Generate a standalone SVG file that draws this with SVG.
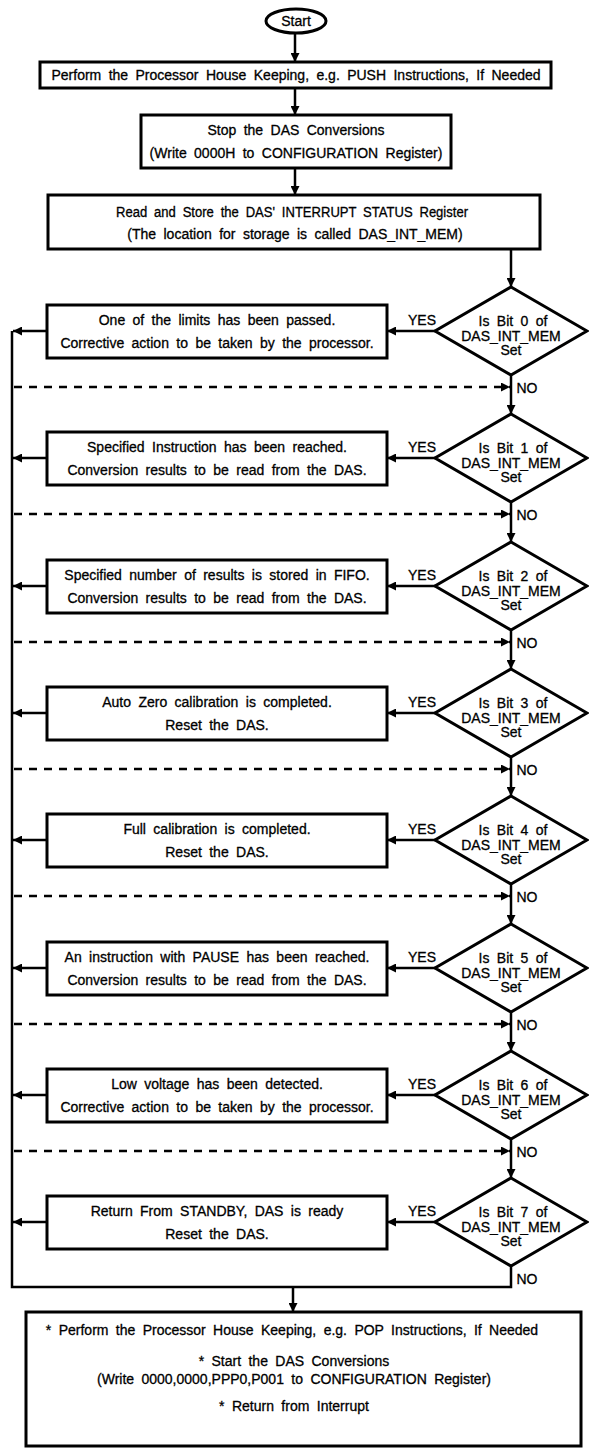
<svg xmlns="http://www.w3.org/2000/svg" width="589" height="1448" viewBox="0 0 589 1448">
<style>
.t{font-family:"Liberation Sans",Arial,sans-serif;font-size:14px;word-spacing:3.5px;fill:#000;stroke:#000;stroke-width:0.3;text-anchor:middle;dominant-baseline:central}
.b{fill:#fff;stroke:#000;stroke-width:3}
.c{fill:none;stroke:#000;stroke-width:2.5}
.d{fill:none;stroke:#000;stroke-width:2.5;stroke-dasharray:8 7}
</style>
<defs>
<marker id="ah" viewBox="0 0 10 10" refX="10" refY="5" markerWidth="9" markerHeight="9" markerUnits="userSpaceOnUse" orient="auto"><path d="M0,0 L10,5 L0,10 z" fill="#000"/></marker>
</defs>
<rect width="589" height="1448" fill="#fff"/>
<g id="connectors">
<path class="c" d="M295,33 V62" marker-end="url(#ah)"/>
<path class="c" d="M295,88 V115" marker-end="url(#ah)"/>
<path class="c" d="M295,168 V195" marker-end="url(#ah)"/>
<path class="c" d="M511,249 V287" marker-end="url(#ah)"/>
<path class="c" d="M12,331 V1287 H511 V1266"/>
<path class="c" d="M293,1287 V1312" marker-end="url(#ah)"/>
<path class="c" d="M435,331 H387" marker-end="url(#ah)"/><path class="c" d="M47,331 H13" marker-end="url(#ah)"/>
<path class="d" d="M14,387 H510" marker-end="url(#ah)"/><path class="c" d="M511,375 V414" marker-end="url(#ah)"/>
<path class="c" d="M435,458 H387" marker-end="url(#ah)"/><path class="c" d="M47,458 H13" marker-end="url(#ah)"/>
<path class="d" d="M14,514 H510" marker-end="url(#ah)"/><path class="c" d="M511,502 V542" marker-end="url(#ah)"/>
<path class="c" d="M435,586 H387" marker-end="url(#ah)"/><path class="c" d="M47,586 H13" marker-end="url(#ah)"/>
<path class="d" d="M14,642 H510" marker-end="url(#ah)"/><path class="c" d="M511,630 V669" marker-end="url(#ah)"/>
<path class="c" d="M435,713 H387" marker-end="url(#ah)"/><path class="c" d="M47,713 H13" marker-end="url(#ah)"/>
<path class="d" d="M14,769 H510" marker-end="url(#ah)"/><path class="c" d="M511,757 V796" marker-end="url(#ah)"/>
<path class="c" d="M435,840 H387" marker-end="url(#ah)"/><path class="c" d="M47,840 H13" marker-end="url(#ah)"/>
<path class="d" d="M14,896 H510" marker-end="url(#ah)"/><path class="c" d="M511,884 V924" marker-end="url(#ah)"/>
<path class="c" d="M435,968 H387" marker-end="url(#ah)"/><path class="c" d="M47,968 H13" marker-end="url(#ah)"/>
<path class="d" d="M14,1024 H510" marker-end="url(#ah)"/><path class="c" d="M511,1012 V1051" marker-end="url(#ah)"/>
<path class="c" d="M435,1095 H387" marker-end="url(#ah)"/><path class="c" d="M47,1095 H13" marker-end="url(#ah)"/>
<path class="d" d="M14,1151 H510" marker-end="url(#ah)"/><path class="c" d="M511,1139 V1178" marker-end="url(#ah)"/>
<path class="c" d="M435,1222 H387" marker-end="url(#ah)"/><path class="c" d="M47,1222 H13" marker-end="url(#ah)"/>
</g>
<g id="labels">
<text class="t" x="422" y="320">YES</text><text class="t" x="527" y="388">NO</text>
<text class="t" x="422" y="447">YES</text><text class="t" x="527" y="515">NO</text>
<text class="t" x="422" y="575">YES</text><text class="t" x="527" y="643">NO</text>
<text class="t" x="422" y="702">YES</text><text class="t" x="527" y="770">NO</text>
<text class="t" x="422" y="829">YES</text><text class="t" x="527" y="897">NO</text>
<text class="t" x="422" y="957">YES</text><text class="t" x="527" y="1025">NO</text>
<text class="t" x="422" y="1084">YES</text><text class="t" x="527" y="1152">NO</text>
<text class="t" x="422" y="1211">YES</text><text class="t" x="527" y="1279">NO</text>
</g>
<g id="start"><ellipse class="b" cx="296" cy="21" rx="30" ry="12"/><text class="t" x="296" y="21">Start</text></g>
<g id="push"><rect class="b" x="40" y="62" width="511" height="26"/><text class="t" x="296" y="75">Perform the Processor House Keeping, e.g. PUSH Instructions, If Needed</text></g>
<g id="stop"><rect class="b" x="141" y="115" width="310" height="53"/><text class="t" x="296" y="130">Stop the DAS Conversions</text><text class="t" x="296" y="153">(Write 0000H to CONFIGURATION Register)</text></g>
<g id="read"><rect class="b" x="48" y="195" width="492" height="54"/><text class="t" x="292" y="212" textLength="352" lengthAdjust="spacingAndGlyphs">Read and Store the DAS' INTERRUPT STATUS Register</text><text class="t" x="295" y="234">(The location for storage is called DAS_INT_MEM)</text></g>

<g id="bit0"><polygon class="b" points="511,287 587,331 511,375 435,331"/><text class="t" x="513" y="321">Is Bit 0 of</text><text class="t" x="511" y="336">DAS_INT_MEM</text><text class="t" x="511" y="350">Set</text></g>
<g id="act0"><rect class="b" x="47" y="305" width="340" height="53"/><text class="t" x="217" y="320">One of the limits has been passed.</text><text class="t" x="217" y="343">Corrective action to be taken by the processor.</text></g>

<g id="bit1"><polygon class="b" points="511,414 587,458 511,502 435,458"/><text class="t" x="513" y="448">Is Bit 1 of</text><text class="t" x="511" y="463">DAS_INT_MEM</text><text class="t" x="511" y="477">Set</text></g>
<g id="act1"><rect class="b" x="47" y="432" width="340" height="53"/><text class="t" x="217" y="447">Specified Instruction has been reached.</text><text class="t" x="217" y="470">Conversion results to be read from the DAS.</text></g>

<g id="bit2"><polygon class="b" points="511,542 587,586 511,630 435,586"/><text class="t" x="513" y="576">Is Bit 2 of</text><text class="t" x="511" y="591">DAS_INT_MEM</text><text class="t" x="511" y="605">Set</text></g>
<g id="act2"><rect class="b" x="47" y="560" width="340" height="53"/><text class="t" x="217" y="575">Specified number of results is stored in FIFO.</text><text class="t" x="217" y="598">Conversion results to be read from the DAS.</text></g>

<g id="bit3"><polygon class="b" points="511,669 587,713 511,757 435,713"/><text class="t" x="513" y="703">Is Bit 3 of</text><text class="t" x="511" y="718">DAS_INT_MEM</text><text class="t" x="511" y="732">Set</text></g>
<g id="act3"><rect class="b" x="47" y="687" width="340" height="53"/><text class="t" x="217" y="702">Auto Zero calibration is completed.</text><text class="t" x="217" y="725">Reset the DAS.</text></g>

<g id="bit4"><polygon class="b" points="511,796 587,840 511,884 435,840"/><text class="t" x="513" y="830">Is Bit 4 of</text><text class="t" x="511" y="845">DAS_INT_MEM</text><text class="t" x="511" y="859">Set</text></g>
<g id="act4"><rect class="b" x="47" y="814" width="340" height="53"/><text class="t" x="217" y="829">Full calibration is completed.</text><text class="t" x="217" y="852">Reset the DAS.</text></g>

<g id="bit5"><polygon class="b" points="511,924 587,968 511,1012 435,968"/><text class="t" x="513" y="958">Is Bit 5 of</text><text class="t" x="511" y="973">DAS_INT_MEM</text><text class="t" x="511" y="987">Set</text></g>
<g id="act5"><rect class="b" x="47" y="942" width="340" height="53"/><text class="t" x="217" y="957">An instruction with PAUSE has been reached.</text><text class="t" x="217" y="980">Conversion results to be read from the DAS.</text></g>

<g id="bit6"><polygon class="b" points="511,1051 587,1095 511,1139 435,1095"/><text class="t" x="513" y="1085">Is Bit 6 of</text><text class="t" x="511" y="1100">DAS_INT_MEM</text><text class="t" x="511" y="1114">Set</text></g>
<g id="act6"><rect class="b" x="47" y="1069" width="340" height="53"/><text class="t" x="217" y="1084">Low voltage has been detected.</text><text class="t" x="217" y="1107">Corrective action to be taken by the processor.</text></g>

<g id="bit7"><polygon class="b" points="511,1178 587,1222 511,1266 435,1222"/><text class="t" x="513" y="1212">Is Bit 7 of</text><text class="t" x="511" y="1227">DAS_INT_MEM</text><text class="t" x="511" y="1241">Set</text></g>
<g id="act7"><rect class="b" x="47" y="1196" width="340" height="53"/><text class="t" x="217" y="1211">Return From STANDBY, DAS is ready</text><text class="t" x="217" y="1234">Reset the DAS.</text></g>

<g id="finish"><rect class="b" x="26" y="1312" width="555" height="134"/>
<text class="t" x="292" y="1330">* Perform the Processor House Keeping, e.g. POP Instructions, If Needed</text>
<text class="t" x="294" y="1361">* Start the DAS Conversions</text>
<text class="t" x="294" y="1379">(Write 0000,0000,PPP0,P001 to CONFIGURATION Register)</text>
<text class="t" x="294" y="1406">* Return from Interrupt</text></g>
</svg>
